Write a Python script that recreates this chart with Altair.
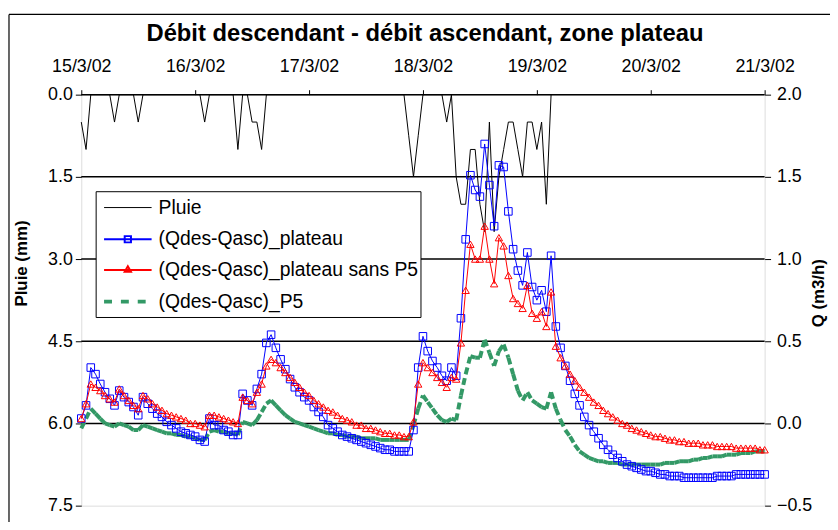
import altair as alt
import pandas as pd

# ---------------- data (hourly, 15/3/02 00:00 -> 21/3/02 00:00) ----------------
plateau = [
    0.03, 0.11, 0.34, 0.30, 0.24, 0.19, 0.15, 0.11, 0.20, 0.16,
    0.13, 0.10, 0.05, 0.16, 0.12, 0.09, 0.06, 0.04, 0.01, -0.01,
    -0.03, -0.05, -0.06, -0.07, -0.08, -0.10, -0.11, 0.03, -0.01, -0.01,
    -0.04, -0.05, -0.07, -0.07, 0.18, 0.14, 0.11, 0.21, 0.30, 0.49,
    0.54, 0.46, 0.39, 0.33, 0.27, 0.22, 0.19, 0.16, 0.14, 0.10,
    0.07, 0.04, -0.01, -0.03, -0.05, -0.07, -0.08, -0.09, -0.10, -0.11,
    -0.12, -0.13, -0.14, -0.15, -0.16, -0.16, -0.17, -0.17, -0.17, -0.17,
    -0.04, 0.34, 0.53, 0.44, 0.38, 0.34, 0.29, 0.26, 0.34, 0.29,
    0.64, 1.12, 1.51, 1.42, 1.38, 1.70, 1.45, 1.20, 1.57, 1.56,
    1.29, 1.06, 0.93, 0.84, 1.04, 0.83, 0.75, 0.81, 0.68, 1.02,
    0.59, 0.46, 0.35, 0.26, 0.18, 0.11, 0.04, -0.01, -0.05, -0.09,
    -0.13, -0.16, -0.19, -0.21, -0.23, -0.25, -0.26, -0.27, -0.28, -0.29,
    -0.29, -0.30, -0.31, -0.31, -0.32, -0.32, -0.32, -0.33, -0.33, -0.33,
    -0.33, -0.33, -0.33, -0.33, -0.32, -0.32, -0.32, -0.32, -0.31, -0.31,
    -0.31, -0.31, -0.31, -0.31, -0.31,
]
sans_p5 = [
    0.03, 0.12, 0.24, 0.22, 0.20, 0.17, 0.15, 0.13, 0.21, 0.17,
    0.14, 0.11, 0.09, 0.17, 0.15, 0.12, 0.10, 0.08, 0.06, 0.05,
    0.04, 0.03, 0.02, 0.00, 0.00, -0.01, -0.02, 0.05, 0.05, 0.04,
    0.03, 0.02, 0.01, 0.00, 0.16, 0.14, 0.12, 0.19, 0.24, 0.35,
    0.39, 0.37, 0.34, 0.31, 0.28, 0.25, 0.22, 0.19, 0.17, 0.14,
    0.12, 0.10, 0.08, 0.07, 0.05, 0.03, 0.02, 0.01, -0.01, -0.01,
    -0.03, -0.03, -0.04, -0.05, -0.06, -0.06, -0.07, -0.07, -0.08, -0.08,
    0.01, 0.24, 0.37, 0.34, 0.31, 0.28, 0.25, 0.22, 0.28, 0.27,
    0.49, 0.81, 1.09, 1.00, 1.00, 1.20, 1.00, 0.85, 1.13, 1.08,
    0.90, 0.76, 0.73, 0.70, 0.84, 0.67, 0.64, 0.68, 0.59, 0.80,
    0.47, 0.40, 0.35, 0.30, 0.26, 0.22, 0.19, 0.16, 0.13, 0.11,
    0.08, 0.06, 0.04, 0.02, 0.00, -0.01, -0.03, -0.04, -0.05, -0.06,
    -0.07, -0.08, -0.08, -0.09, -0.10, -0.10, -0.11, -0.11, -0.12, -0.12,
    -0.12, -0.13, -0.13, -0.13, -0.14, -0.14, -0.14, -0.14, -0.15, -0.15,
    -0.15, -0.15, -0.15, -0.16, -0.16,
]
p5 = [
    -0.03, 0.03, 0.09, 0.06, 0.03, 0.00, -0.01, -0.02, 0.00, -0.01,
    -0.02, -0.04, -0.04, -0.01, -0.02, -0.03, -0.04, -0.05, -0.06, -0.06,
    -0.07, -0.07, -0.08, -0.08, -0.09, -0.10, -0.10, -0.05, -0.04, -0.05,
    -0.05, -0.06, -0.06, -0.07, 0.01, 0.00, -0.01, 0.02, 0.07, 0.12,
    0.14, 0.11, 0.08, 0.05, 0.03, 0.01, 0.00, -0.01, -0.02, -0.03,
    -0.04, -0.05, -0.06, -0.06, -0.07, -0.07, -0.08, -0.08, -0.08, -0.09,
    -0.09, -0.09, -0.09, -0.10, -0.10, -0.10, -0.10, -0.10, -0.10, -0.10,
    -0.01, 0.09, 0.17, 0.13, 0.09, 0.05, 0.02, 0.01, 0.03, 0.02,
    0.17, 0.30, 0.41, 0.40, 0.40, 0.51, 0.43, 0.35, 0.44, 0.48,
    0.40, 0.30, 0.20, 0.14, 0.19, 0.14, 0.12, 0.10, 0.09, 0.19,
    0.09, 0.02, -0.04, -0.08, -0.13, -0.17, -0.19, -0.21, -0.22, -0.23,
    -0.23, -0.24, -0.24, -0.24, -0.25, -0.25, -0.25, -0.25, -0.25, -0.25,
    -0.25, -0.25, -0.25, -0.24, -0.24, -0.24, -0.23, -0.23, -0.23, -0.22,
    -0.22, -0.21, -0.21, -0.20, -0.20, -0.20, -0.19, -0.19, -0.19, -0.18,
    -0.18, -0.18, -0.17, -0.17, -0.17,
]
pluie = [
    0.5, 1.0, 0.0, 0.0, 0.0, 0.0, 0.0, 0.5, 0.0, 0.0,
    0.0, 0.0, 0.5, 0.0, 0.0, 0.0, 0.0, 0.0, 0.0, 0.0,
    0.0, 0.0, 0.0, 0.0, 0.0, 0.0, 0.5, 0.0, 0.0, 0.0,
    0.0, 0.0, 0.0, 1.0, 0.0, 0.0, 0.5, 0.5, 1.0, 0.0,
    0.0, 0.0, 0.0, 0.0, 0.0, 0.0, 0.0, 0.0, 0.0, 0.0,
    0.0, 0.0, 0.0, 0.0, 0.0, 0.0, 0.0, 0.0, 0.0, 0.0,
    0.0, 0.0, 0.0, 0.0, 0.0, 0.0, 0.0, 0.0, 0.0, 0.75,
    1.5, 0.75, 0.0, 0.0, 0.0, 0.0, 0.0, 0.5, 0.0, 1.5,
    2.0, 2.0, 1.0, 1.0, 2.0, 2.5, 0.5, 2.5, 1.5, 1.0,
    0.5, 0.5, 1.0, 1.5, 0.5, 0.5, 1.0, 0.5, 2.0, 0.0,
]
pluie_ticks = [0.0, 1.5, 3.0, 4.5, 6.0, 7.5]
q_ticks = [-0.5, 0.0, 0.5, 1.0, 1.5, 2.0]
grid_pluie = [0.0, 1.5, 3.0, 4.5, 6.0]
series_names = ["Pluie", "(Qdes-Qasc)_plateau", "(Qdes-Qasc)_plateau sans P5", "(Qdes-Qasc)_P5"]
title_text = "Débit descendant - débit ascendant, zone plateau"

# ---------------- tables ----------------
times = pd.date_range("2002-03-15 00:00", periods=len(plateau), freq="h")
tstr = [t.strftime("%Y-%m-%dT%H:%M:%S") for t in times]
df_q = pd.DataFrame({"t": tstr, "plateau": plateau, "sans": sans_p5, "p5": p5})
df_g = pd.DataFrame({"t": tstr[:-1], "t2": tstr[1:], "p5": p5[:-1], "p5n": p5[1:]})
df_p = pd.DataFrame({"t": tstr[:len(pluie)], "pluie": pluie})
df_grid = pd.DataFrame({"g": grid_pluie})
one = pd.DataFrame({"a": [0]})

FONT = "Liberation Sans"
BLUE = "#0000FF"
RED = "#FF0000"
GREEN = "#339966"

x_scale = alt.Scale(domain=[alt.DateTime(year=2002, month=3, date=15),
                            alt.DateTime(year=2002, month=3, date=21)])
x_axis = alt.Axis(orient="top", title=None, format="%-d/%-m/%y",
                  values=[alt.DateTime(year=2002, month=3, date=d) for d in range(15, 22)],
                  labelFontSize=18, labelFont=FONT, labelColor="black", labelPadding=14,
                  tickSize=5, tickColor="black", domain=False, grid=False, labelFlush=False)
X = alt.X("t:T", scale=x_scale, axis=x_axis)

p_scale = alt.Scale(domain=[0, 7.5], reverse=True, nice=False, zero=False)
p_axis = alt.Axis(orient="left", values=pluie_ticks, format=".1f", title="Pluie (mm)",
                  titleFont=FONT, titleFontSize=17, titleFontWeight="bold", titleColor="black",
                  titleX=-51, titleY=170, titleAngle=270, titleBaseline="bottom",
                  labelFontSize=18, labelFont=FONT, labelColor="black",
                  labelPadding=3, tickSize=6, tickColor="black", domain=False, grid=False)
q_scale = alt.Scale(domain=[-0.5, 2.0], nice=False, zero=False)
q_axis = alt.Axis(orient="right", values=q_ticks, format=".1f", title="Q (m3/h)",
                  titleFont=FONT, titleFontSize=17, titleFontWeight="bold", titleColor="black",
                  titleAngle=270, titleX=63, titleY=200, titleBaseline="bottom",
                  labelFontSize=18, labelFont=FONT,
                  labelColor="black", labelPadding=6, tickSize=6, tickColor="black",
                  domain=False, grid=False)

grid = alt.Chart(df_grid).mark_rule(color="black", strokeWidth=1.5).encode(
    y=alt.Y("g:Q", scale=p_scale, axis=p_axis))
pluie_line = alt.Chart(df_p).mark_line(color="black", strokeWidth=1).encode(
    x=X, y=alt.Y("pluie:Q", scale=p_scale, axis=p_axis))
pluie_group = alt.layer(grid, pluie_line)

green = alt.Chart(df_g).mark_rule(color=GREEN, strokeWidth=4, strokeDash=[7, 4],
                                  strokeCap="butt").encode(
    x=X, x2="t2:T", y=alt.Y("p5:Q", scale=q_scale, axis=q_axis), y2="p5n:Q")
blue_line = alt.Chart(df_q).mark_line(color=BLUE, strokeWidth=1).encode(
    x=X, y=alt.Y("plateau:Q", scale=q_scale, axis=q_axis))
blue_pts = alt.Chart(df_q).mark_point(shape="square", color=BLUE, filled=False, size=58,
                                      strokeWidth=1, opacity=1).encode(
    x=X, y=alt.Y("plateau:Q", scale=q_scale, axis=q_axis))
red_line = alt.Chart(df_q).mark_line(color=RED, strokeWidth=1).encode(
    x=X, y=alt.Y("sans:Q", scale=q_scale, axis=q_axis))
red_pts = alt.Chart(df_q).mark_point(shape="triangle-up", color=RED, filled=False, size=55,
                                     strokeWidth=1, opacity=1).encode(
    x=X, y=alt.Y("sans:Q", scale=q_scale, axis=q_axis))
q_group = alt.layer(green, blue_line, blue_pts, red_line, red_pts)

# ---------------- legend, title & chart frame (pixel placed) ----------------
lx0, lx1, ly0, ly1 = 15, 343, 98, 225
rows = [114, 146, 177, 209]
sx0, sx1, smid, tx = 23, 71, 47, 78
frame_top = alt.Chart(one).mark_rule(color="black", strokeWidth=1.2).encode(
    x=alt.value(-73), x2=alt.value(770), y=alt.value(-81), y2=alt.value(-81))
frame_left = alt.Chart(one).mark_rule(color="black", strokeWidth=1.2).encode(
    x=alt.value(-73), x2=alt.value(-73), y=alt.value(-81), y2=alt.value(440))
leg = [alt.Chart(one).mark_rect(fill="white", stroke="black", strokeWidth=1).encode(
    x=alt.value(lx0), x2=alt.value(lx1), y=alt.value(ly0), y2=alt.value(ly1))]
leg.append(alt.Chart(one).mark_rule(color="black", strokeWidth=1).encode(
    x=alt.value(sx0), x2=alt.value(sx1), y=alt.value(rows[0])))
leg.append(alt.Chart(one).mark_rule(color=BLUE, strokeWidth=2).encode(
    x=alt.value(sx0), x2=alt.value(sx1), y=alt.value(rows[1])))
leg.append(alt.Chart(one).mark_point(shape="square", color=BLUE, filled=False, size=40,
                                     opacity=1).encode(x=alt.value(smid), y=alt.value(rows[1])))
leg.append(alt.Chart(one).mark_rule(color=RED, strokeWidth=2).encode(
    x=alt.value(sx0), x2=alt.value(sx1), y=alt.value(rows[2])))
leg.append(alt.Chart(one).mark_point(shape="triangle-up", color=RED, filled=False, size=40,
                                     opacity=1).encode(x=alt.value(smid), y=alt.value(rows[2] - 1)))
leg.append(alt.Chart(one).mark_rule(color=GREEN, strokeWidth=4, strokeDash=[8, 9],
                                    strokeCap="butt").encode(
    x=alt.value(sx0), x2=alt.value(sx1), y=alt.value(rows[3])))
for i, name in enumerate(series_names):
    leg.append(alt.Chart(one).mark_text(text=name, font=FONT, fontSize=19.5, color="black",
                                        align="left", baseline="middle").encode(
        x=alt.value(tx), y=alt.value(rows[i])))
title = alt.Chart(one).mark_text(text=title_text, font=FONT, fontSize=24, fontWeight="bold",
                                 color="black", align="center", baseline="middle").encode(
    x=alt.value(347), y=alt.value(-61))

chart = alt.layer(pluie_group, q_group, *leg, title, frame_top, frame_left).resolve_scale(
    y="independent").properties(
    width=690, height=415,
    padding={"left": 74, "top": 85, "right": 66, "bottom": 14},
    autosize=alt.AutoSizeParams(type="none"),
).configure_view(fill="#C0C0C0", stroke="#404040", strokeDash=[2, 2], strokeWidth=1
).configure(background="white")

chart.save("out.html", embed_options={"renderer": "svg", "actions": False})
